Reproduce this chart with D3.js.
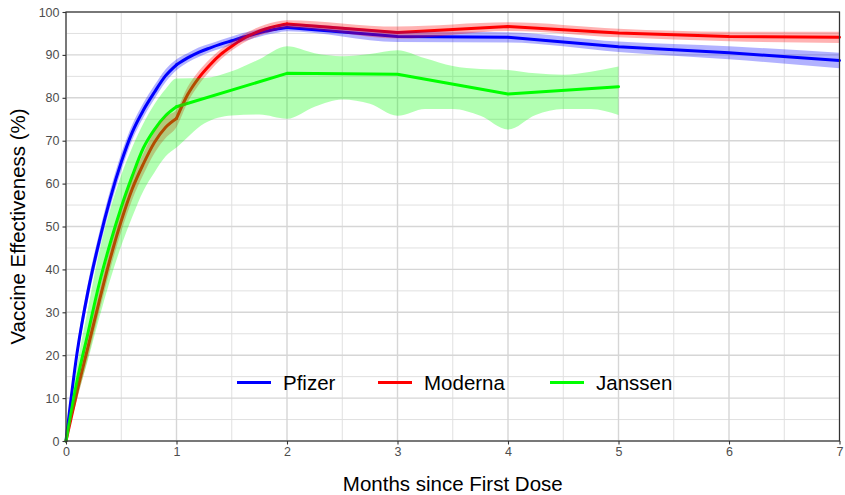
<!DOCTYPE html>
<html><head><meta charset="utf-8">
<script src="https://cdn.jsdelivr.net/npm/d3@7"></script>
<style>body{margin:0;background:#fff;}svg{display:block;font-family:"Liberation Sans",Arial,sans-serif;}</style>
</head><body><svg id="c" width="845" height="495"></svg>
<script>
const monthsPM = [0,0.1,0.2,0.3,0.4,0.5,0.6,0.7,0.8,0.9,1.0,1.1,1.2,1.3,1.4,1.5,1.6,1.7,1.8,1.9,2.0,3,4,5,6,7];
const pfizer     = [0,20.5,35,46.5,56.5,65,72,77.1,81.3,85.1,87.7,89.3,90.6,91.6,92.5,93.3,94.1,94.8,95.5,96,96.4,94.3,94.1,91.9,90.5,88.7];
const pfizerLow  = [0,19,33,44.5,54.5,63,70.2,75.4,79.7,83.6,86.4,88.2,89.5,90.6,91.5,92.3,93.1,93.9,94.6,95.1,95.5,93.0,92.9,90.7,89.0,86.9];
const pfizerHigh = [0,22,37,48.5,58.5,67,73.8,78.8,82.9,86.6,89.0,90.4,91.7,92.6,93.5,94.3,95.1,95.7,96.4,96.9,97.3,95.6,95.3,93.1,92.0,90.5];
const moderna     = [0,11.5,22,32.5,42.5,51.3,58.8,64.6,69.6,73.1,75.2,80.7,84.6,87.6,90.1,92,93.7,95,96,96.7,97.2,95.2,96.6,95.1,94.3,94.1];
const modernaLow  = [0,9.7,19.5,30,40,48.8,56.3,62.1,67.1,70.6,73.2,78.9,83,86.2,88.9,91,92.7,94,95,95.7,96.3,93.8,95.6,94.1,93.2,92.8];
const modernaHigh = [0,13.3,24.5,35,45,53.8,61.3,67.1,72.1,75.6,77.2,82.5,86.2,89,91.3,93,94.7,96,97,97.7,98.1,96.6,97.6,96.1,95.4,95.4];
const monthsJ = [0,0.1,0.2,0.3,0.4,0.5,0.6,0.7,0.8,0.9,1.0,2,3,4,5];
const janssen = [0,14,25.3,36.6,46.1,54.5,61.8,68.3,72.6,75.8,77.9,85.7,85.5,80.9,82.6];
const monthsJBand = [0,0.1,0.2,0.3,0.4,0.5,0.6,0.7,0.8,0.9,1.0,1.25,1.5,1.75,2.0,2.25,2.5,2.75,3.0,3.25,3.5,3.75,4.0,4.25,4.5,4.75,5.0];
const janssenHigh = [0,17.5,31,44,54,62,68.5,74,78.5,82,84.5,84.6,86.2,89,92,90.4,89.7,90.2,91.1,89.2,87.4,86.7,86.5,85.7,85.4,86.1,87.3];
const janssenLow  = [0,10,19,28.6,37.6,45.5,52.3,58.3,62.6,66.3,68.4,74,75.9,76.1,75.1,77.9,79.6,78.6,75.8,77.4,77.4,75.8,72.6,76.0,77.4,77.4,76.0];
const seriesNames = ["Pfizer","Moderna","Janssen"];
const seriesColors = ["#0000ff","#ff0000","#00ff00"];
const xTicks = [0,1,2,3,4,5,6,7];
const yTicks = [0,10,20,30,40,50,60,70,80,90,100];
const xTitle = "Months since First Dose";
const yTitle = "Vaccine Effectiveness (%)";

const svg = d3.select("#c");
const L = 66, R = 839.5, T = 12, B = 441;
const x = d3.scaleLinear().domain([0,7]).range([L,R]);
const y = d3.scaleLinear().domain([0,100]).range([B,T]);

const g = svg.append("g");
const xMinor = d3.range(0.5,7,1), yMinor = d3.range(5,100,10);
g.selectAll(".xm").data(xMinor).join("line").attr("x1",d=>x(d)).attr("x2",d=>x(d)).attr("y1",T).attr("y2",B).attr("stroke","#e0e0e0").attr("stroke-width",1);
g.selectAll(".ym").data(yMinor).join("line").attr("y1",d=>y(d)).attr("y2",d=>y(d)).attr("x1",L).attr("x2",R).attr("stroke","#e0e0e0").attr("stroke-width",1);
g.selectAll(".xg").data(xTicks).join("line").attr("x1",d=>x(d)).attr("x2",d=>x(d)).attr("y1",T).attr("y2",B).attr("stroke","#d6d6d6").attr("stroke-width",1.4);
g.selectAll(".yg").data(yTicks).join("line").attr("y1",d=>y(d)).attr("y2",d=>y(d)).attr("x1",L).attr("x2",R).attr("stroke","#d6d6d6").attr("stroke-width",1.4);

const smoothLine = d3.line().x(d=>x(d[0])).y(d=>y(d[1])).curve(d3.curveMonotoneX);
const straightLine = d3.line().x(d=>x(d[0])).y(d=>y(d[1])).curve(d3.curveLinear);
const areaGen = d3.area().x(d=>x(d[0])).y0(d=>y(d[1])).y1(d=>y(d[2])).curve(d3.curveMonotoneX);

// line pieces: smooth within [a,b], straight from last break onward
function drawLine(pts, color, smoothBreaks){
  const grp = svg.append("g");
  for(let k=0;k<smoothBreaks.length-1;k++){
    const a=smoothBreaks[k], b=smoothBreaks[k+1];
    const seg = pts.filter(p=>p[0]>=a-1e-9 && p[0]<=b+1e-9);
    grp.append("path").attr("d",smoothLine(seg)).attr("fill","none").attr("stroke",color).attr("stroke-width",3).attr("stroke-linecap","round").attr("stroke-linejoin","round");
  }
  const last = smoothBreaks[smoothBreaks.length-1];
  const rest = pts.filter(p=>p[0]>=last-1e-9);
  grp.append("path").attr("d",straightLine(rest)).attr("fill","none").attr("stroke",color).attr("stroke-width",3).attr("stroke-linecap","round").attr("stroke-linejoin","round");
}

const lines = [
  d3.zip(monthsPM, pfizer),
  d3.zip(monthsPM, moderna),
  d3.zip(monthsJ, janssen)
];
const breaks = [[0,1,2],[0,1,2],[0,1]];
const bands = [
  d3.zip(monthsPM, pfizerLow, pfizerHigh),
  d3.zip(monthsPM, modernaLow, modernaHigh),
  d3.zip(monthsJBand, janssenLow, janssenHigh)
];
lines.forEach((ln,i)=> drawLine(ln, seriesColors[i], breaks[i]));
bands.forEach((bd,i)=>{
  svg.append("path").attr("d",areaGen(bd)).attr("fill",seriesColors[i]).attr("fill-opacity",0.3).attr("stroke","none");
});

svg.append("rect").attr("x",L).attr("y",T).attr("width",R-L).attr("height",B-T).attr("fill","none").attr("stroke","#333").attr("stroke-width",1.2);

const xAxis = svg.append("g").attr("transform",`translate(0,${B})`).call(d3.axisBottom(x).tickValues(xTicks).tickSize(3.5).tickPadding(3).tickFormat(d3.format("d")));
const yAxis = svg.append("g").attr("transform",`translate(${L},0)`).call(d3.axisLeft(y).tickValues(yTicks).tickSize(3.5).tickPadding(3).tickFormat(d3.format("d")));
[xAxis,yAxis].forEach(a=>{
  a.select(".domain").remove();
  a.selectAll(".tick line").attr("stroke","#333").attr("stroke-width",1.1);
  a.selectAll(".tick text").attr("fill","#4d4d4d").attr("font-size",12.5).attr("font-family","Liberation Sans, Arial, sans-serif");
});

svg.append("text").attr("x",(L+R)/2).attr("y",491).attr("text-anchor","middle").attr("font-size",20.5).attr("fill","#000").text(xTitle);
svg.append("text").attr("transform",`translate(25,${(T+B)/2}) rotate(-90)`).attr("text-anchor","middle").attr("font-size",20.5).attr("fill","#000").text(yTitle);

const legX = [237,378,550];
const leg = svg.append("g");
seriesNames.forEach((n,i)=>{
  leg.append("line").attr("x1",legX[i]).attr("x2",legX[i]+34).attr("y1",382.5).attr("y2",382.5).attr("stroke",seriesColors[i]).attr("stroke-width",3);
  leg.append("text").attr("x",legX[i]+46).attr("y",389.5).attr("font-size",20.5).attr("fill","#000").text(n);
});
</script></body></html>
